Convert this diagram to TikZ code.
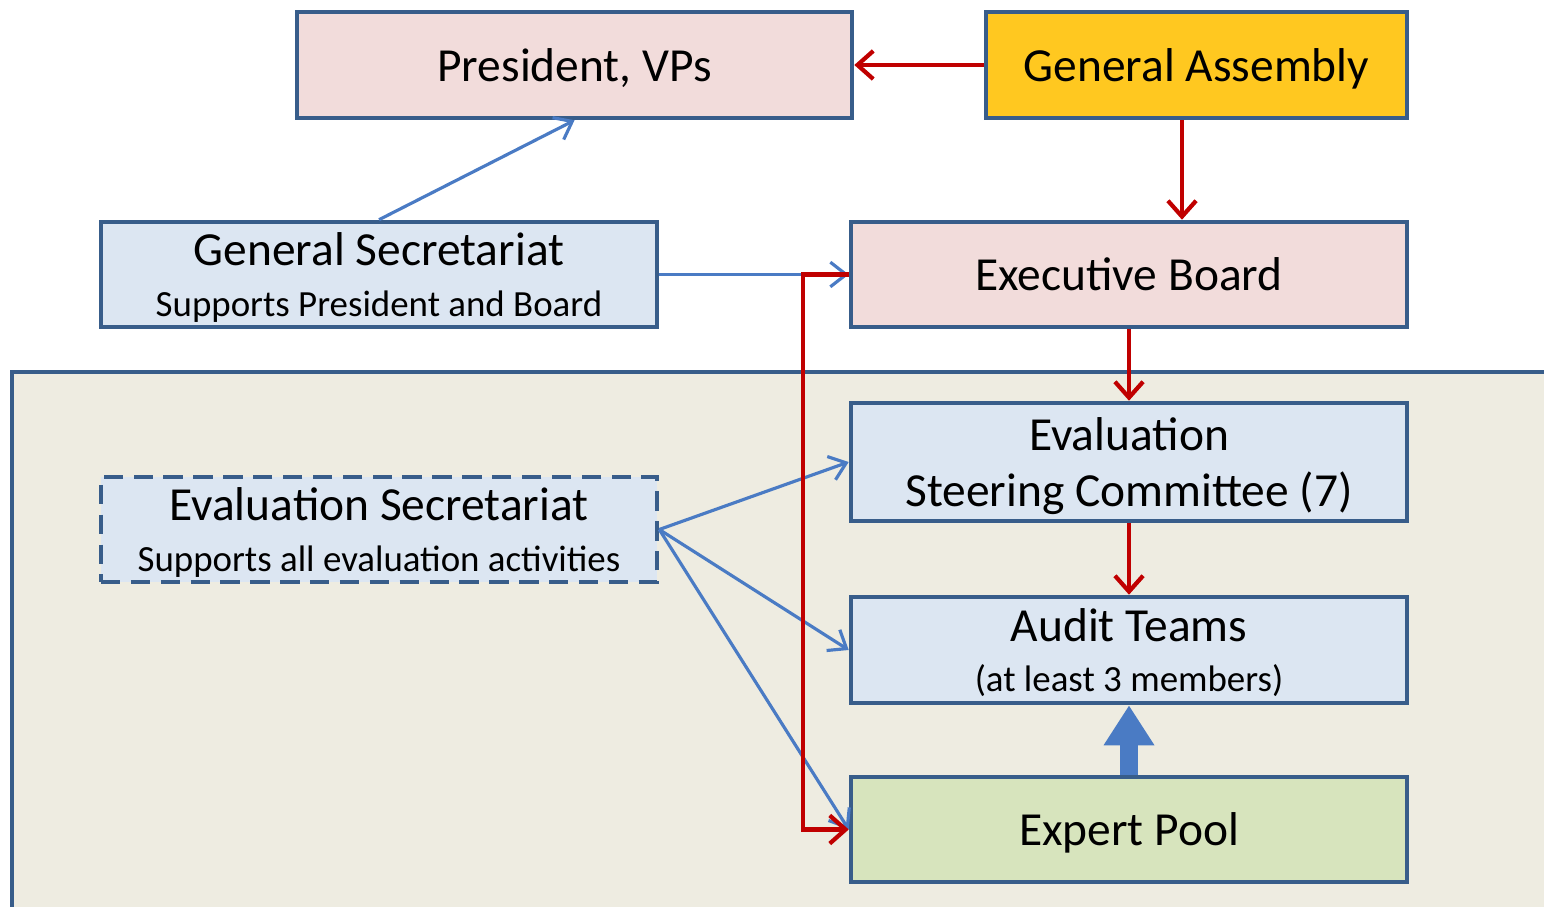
\documentclass[tikz,border=0pt]{standalone}
\usepackage{fontspec}
\setmainfont{Carlito}
\usetikzlibrary{positioning, arrows.meta}

\definecolor{boxline}{HTML}{385D8A}
\definecolor{linkblue}{HTML}{4A7BC4}
\definecolor{linkred}{HTML}{C00000}
\definecolor{pinkfill}{HTML}{F2DCDB}
\definecolor{bluefill}{HTML}{DCE6F2}
\definecolor{goldfill}{HTML}{FFC820}
\definecolor{greenfill}{HTML}{D7E4BD}
\definecolor{panelfill}{HTML}{EEECE1}

\newcommand{\bigtxt}{\fontsize{27}{32}\selectfont}
\newcommand{\smalltxt}{\fontsize{21}{28.5}\selectfont}

\begin{document}
\begin{tikzpicture}[
    node distance=3cm,
    on grid,
    every node/.style={inner sep=0pt, align=center},
    unit/.style={draw=boxline, line width=2.6pt, minimum width=11.12cm, minimum height=2.1cm, text depth=0pt, font=\bigtxt},
    bluelink/.style={draw=linkblue, line width=1.8pt, -{Straight Barb[length=9pt, width=14pt, line width=1.8pt]}},
    redlink/.style={draw=linkred, line width=2.4pt, -{Straight Barb[length=9pt, width=16pt, line width=2.4pt]}}
]
   \useasboundingbox (0,0) rectangle (30.88,-18.14);

   % evaluation area in the background
   \fill[panelfill] (0.24,-7.44) rectangle (31.5,-18.6);
   \draw[boxline, line width=2.6pt] (0.24,-18.6) -- (0.24,-7.44) -- (31.5,-7.44);

   % governing bodies
   \node[unit, fill=pinkfill, minimum width=11.1cm, minimum height=2.12cm] (pv) at (11.49,-1.30) {President, VPs};
   \node[unit, fill=goldfill, minimum width=8.42cm, minimum height=2.12cm] (ga) [right=12.44cm of pv] {General Assembly};
   \node[unit, fill=bluefill, font=\smalltxt] (gs) at (7.58,-5.49) {{\bigtxt General Secretariat}\\Supports President and Board};
   \node[unit, fill=pinkfill] (eb) [right=15cm of gs] {Executive Board};

   % evaluation bodies
   \node[unit, fill=bluefill, font=\smalltxt, dash pattern=on 11pt off 6pt] (es) [below=5.1cm of gs] {{\bigtxt Evaluation Secretariat}\\Supports all evaluation activities};
   \node[unit, fill=bluefill, minimum height=2.36cm] (esc) [below=3.75cm of eb] {Evaluation\\Steering Committee (7)};
   \node[unit, fill=bluefill, font=\smalltxt, minimum height=2.12cm] (at) [below=3.76cm of esc] {{\bigtxt Audit Teams}\\(at least 3 members)};
   \node[unit, fill=greenfill] (ep) [below=3.59cm of at] {Expert Pool};

   % support links
   \draw[bluelink] (gs.north) -- (pv.south);
   \draw[bluelink] (gs.east) -- (eb.west);
   \draw[bluelink] (es.east) -- (esc.west);
   \draw[bluelink] (es.east) -- (at.west);
   \draw[bluelink] (es.east) -- (ep.west);

   % reporting lines
   \draw[redlink] (ga.west) -- (pv.east);
   \draw[redlink] ([xshift=-0.29cm]ga.south) -- ([xshift=-0.29cm]ga.south |- eb.north);
   \draw[redlink] (eb.south) -- (esc.north);
   \draw[redlink] (esc.south) -- (at.north);
   \draw[redlink] (eb.west) -- ++(-0.92,0) |- (ep.west);

   % experts feed the audit teams
   \draw[linkblue, line width=0.36cm, -{Triangle[width=0.96cm, length=0.8cm]}] (ep.north) -- (at.south);
\end{tikzpicture}
\end{document}
